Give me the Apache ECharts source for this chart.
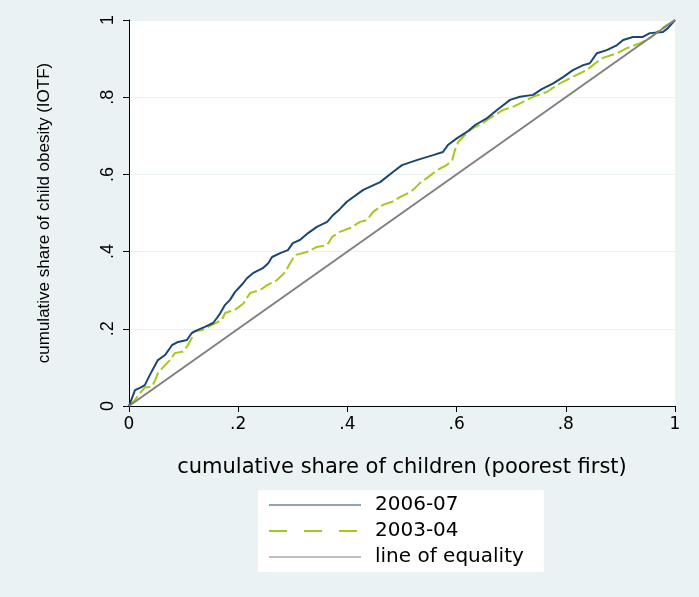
<!DOCTYPE html>
<html>
<head>
<meta charset="utf-8">
<script src="https://cdn.jsdelivr.net/npm/echarts@6/dist/echarts.min.js"></script>
<style>
	html,body{margin:0;padding:0;background:#eaf2f3;}
	#chart{width:699px;height:597px;}
</style>
</head>
<body>
<div id="chart"></div>
<script>
// cumulative share of children (x) vs cumulative share of obesity (y)
var x0607 = [0,.011,.02,.029,.038,.048,.053,.066,.079,.09,.106,.115,.121,.139,.154,.161,.167,.176,.185,.194,.209,.216,.227,.245,.255,.262,.277,.291,.3,.313,.328,.344,.363,.374,.386,.399,.429,.46,.484,.5,.527,.557,.575,.584,.601,.619,.634,.656,.674,.698,.716,.74,.756,.777,.795,.813,.832,.844,.857,.875,.894,.905,.923,.941,.954,.978,.987,1];
var y0607 = [0,.041,.047,.054,.08,.106,.119,.132,.158,.166,.171,.189,.194,.205,.215,.228,.24,.262,.275,.295,.318,.331,.344,.357,.37,.386,.396,.404,.422,.43,.448,.464,.477,.495,.51,.529,.56,.58,.607,.624,.637,.65,.658,.676,.694,.71,.728,.746,.767,.793,.801,.806,.821,.836,.852,.87,.883,.888,.914,.922,.935,.948,.956,.956,.966,.969,.979,1];
var x0304 = [0,.011,.02,.029,.042,.048,.053,.066,.075,.084,.099,.108,.115,.117,.134,.152,.17,.176,.194,.209,.222,.24,.253,.271,.286,.295,.304,.326,.344,.363,.372,.386,.405,.423,.436,.447,.465,.482,.496,.515,.524,.533,.548,.564,.582,.592,.597,.603,.615,.63,.648,.661,.685,.703,.722,.74,.766,.784,.802,.82,.839,.857,.868,.894,.912,.936,.954,.967,.985,1];
var y0304 = [0,.016,.033,.048,.05,.067,.085,.106,.119,.137,.141,.158,.176,.192,.197,.21,.223,.241,.249,.265,.293,.3,.313,.326,.347,.37,.391,.399,.412,.417,.438,.451,.461,.477,.482,.503,.521,.529,.541,.554,.565,.578,.593,.611,.624,.637,.663,.684,.702,.72,.733,.746,.767,.775,.788,.801,.814,.832,.845,.858,.871,.891,.902,.914,.927,.94,.953,.969,.987,1];
var xEqual = [0,1];
var yEqual = [0,1];
var tickLabels = {0:'0',0.2:'.2',0.4:'.4',0.6:'.6',0.8:'.8',1:'1'};

function pairs(xs,ys){
	var out = [];
	for(var i=0;i<xs.length;i++){ out.push([xs[i],ys[i]]); }
	return out;
}
function fmt(v){
	var k = Math.round(v*10)/10;
	return tickLabels[k] !== undefined ? tickLabels[k] : String(v);
}

var wide = 'DejaVu Sans, Verdana, sans-serif';
var narrow = 'Liberation Sans, Arial, sans-serif';
var myChart = echarts.init(document.getElementById('chart'));
var option = {
	backgroundColor:'#eaf2f3',
	animation:false,
	grid:{
		left:129,
		right:24,
		top:20,
		bottom:191,
		show:true,
		backgroundColor:'#ffffff',
		borderWidth:0
	},
	legend:{
		orient:'vertical',
		left:258,
		top:490,
		backgroundColor:'#ffffff',
		padding:[4,20,4,10],
		itemWidth:92,
		itemHeight:14,
		itemGap:4,
		itemStyle:{opacity:0},
		textStyle:{
			color:'#000',
			fontFamily:wide,
			fontSize:20,
			lineHeight:22,
			padding:[0,0,0,9]
		},
		data:[
			{name:'2006-07',lineStyle:{width:1,color:'#1a476f'},itemStyle:{opacity:0}},
			{name:'2003-04',lineStyle:{width:2,color:'#a3c91e',type:[18,17]},itemStyle:{opacity:0}},
			{name:'line of equality',lineStyle:{width:1,color:'#808080'},itemStyle:{opacity:0}}
		]
	},
	xAxis:{
		type:'value',
		min:0,
		max:1,
		interval:0.2,
		name:'cumulative share of children (poorest first)',
		nameLocation:'middle',
		nameGap:51,
		nameTextStyle:{color:'#000',fontFamily:wide,fontSize:21},
		axisLine:{show:true,lineStyle:{color:'#000',width:1}},
		axisTick:{show:true,length:6,lineStyle:{color:'#000'}},
		axisLabel:{color:'#000',fontFamily:wide,fontSize:17,margin:10,formatter:fmt},
		splitLine:{show:false}
	},
	yAxis:{
		type:'value',
		min:0,
		max:1,
		interval:0.2,
		name:'cumulative share of child obesity (IOTF)',
		nameLocation:'middle',
		nameGap:76,
		nameTextStyle:{color:'#000',fontFamily:narrow,fontSize:17},
		axisLine:{show:true,lineStyle:{color:'#000',width:1}},
		axisTick:{show:true,length:6,lineStyle:{color:'#000'}},
		axisLabel:{color:'#000',fontFamily:narrow,fontSize:18,margin:12,rotate:90,formatter:fmt},
		splitLine:{show:true,lineStyle:{color:'#eaf2f3',width:1}}
	},
	series:[
		{
			name:'2006-07',
			type:'line',
			symbol:'none',
			data:pairs(x0607,y0607),
			lineStyle:{color:'#1a476f',width:2},
			itemStyle:{color:'#1a476f'},
			z:3
		},
		{
			name:'2003-04',
			type:'line',
			symbol:'none',
			data:pairs(x0304,y0304),
			lineStyle:{color:'#a3c91e',width:2,type:[13,4]},
			itemStyle:{color:'#a3c91e'},
			z:2
		},
		{
			name:'line of equality',
			type:'line',
			symbol:'none',
			data:pairs(xEqual,yEqual),
			lineStyle:{color:'#808080',width:2},
			itemStyle:{color:'#808080'},
			z:4
		}
	]
};
myChart.setOption(option);
</script>
</body>
</html>
